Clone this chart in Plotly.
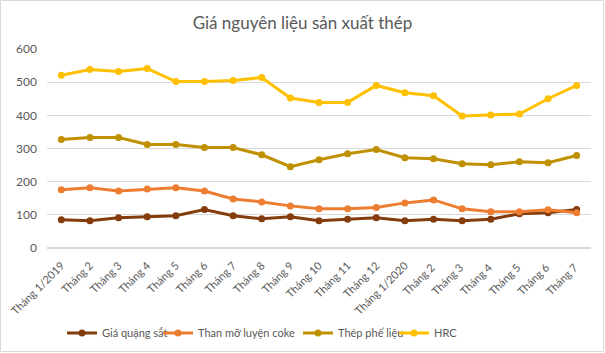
import plotly.graph_objects as go

categories = ["Tháng 1/2019", "Tháng 2", "Tháng 3", "Tháng 4", "Tháng 5", "Tháng 6", "Tháng 7",
              "Tháng 8", "Tháng 9", "Tháng 10", "Tháng 11", "Tháng 12", "Tháng 1/2020", "Tháng 2 ",
              "Tháng 3 ", "Tháng 4 ", "Tháng 5 ", "Tháng 6 ", "Tháng 7 "]
quang_sat = [85, 82, 91, 94, 97, 116, 97, 88, 94, 82, 87, 91, 82, 87, 82, 87, 103, 106, 116]
than_mo = [176, 182, 172, 178, 182, 172, 148, 139, 127, 118, 118, 122, 136, 145, 118, 109, 109, 115, 106]
thep_phe_lieu = [327, 333, 333, 312, 312, 303, 303, 281, 245, 266, 284, 297, 272, 269, 254, 251, 260, 257, 279]
hrc = [521, 538, 532, 541, 502, 502, 505, 514, 452, 439, 439, 490, 468, 459, 398, 401, 404, 450, 490]
y_ticks = [0, 100, 200, 300, 400, 500, 600]

series = [
    ("Giá quặng sắt", quang_sat, "#843C0C"),
    ("Than mỡ luyện coke", than_mo, "#ED7D31"),
    ("Thép phế liệu", thep_phe_lieu, "#BF9000"),
    ("HRC", hrc, "#FFC000"),
]
legend_left_px = [62, 158, 298, 394]

W, H = 605, 353
L, R, T, B = 47, 14, 49, 105
pw, ph = W - L - R, H - T - B

fig = go.Figure()
legend_layouts = {}
for i, (name, vals, color) in enumerate(series):
    lg = "legend" if i == 0 else f"legend{i + 1}"
    fig.add_trace(go.Scatter(
        x=categories, y=vals, name=name, mode="lines+markers", legend=lg,
        line=dict(color=color, width=3), marker=dict(color=color, size=7),
    ))
    legend_layouts[lg] = dict(orientation="h", x=legend_left_px[i] / W, xref="container",
                              xanchor="left", y=1 - 333 / H, yref="container",
                              yanchor="middle", font=dict(size=11, color="#595959"),
                              bgcolor="rgba(0,0,0,0)")

fig.update_layout(
    width=W, height=H,
    margin=dict(l=L, r=R, t=T, b=B, autoexpand=False),
    paper_bgcolor="white", plot_bgcolor="white",
    font=dict(family="Lato, Liberation Sans, sans-serif", color="#595959", size=12),
    title=dict(text="Giá nguyên liệu sản xuất thép", x=0.5, xanchor="center",
               y=1 - 23 / H, yanchor="middle", font=dict(size=17, color="#595959")),
    xaxis=dict(type="category", range=[-0.5, len(categories) - 0.5], showgrid=False,
               tickangle=-45, ticks="", showline=False, zeroline=False, automargin=False,
               ticklabelstandoff=8,
               tickfont=dict(size=11, color="#595959")),
    yaxis=dict(range=[0, 600], tickvals=y_ticks, showgrid=True, gridcolor="#D9D9D9",
               gridwidth=1, zeroline=True, zerolinecolor="#D9D9D9", showline=False,
               ticks="", automargin=False, ticklabelstandoff=9,
               tickfont=dict(size=12, color="#595959")),
    showlegend=True,
    **legend_layouts,
)
fig.add_shape(type="rect", xref="paper", yref="paper",
              x0=-(L - 0.5) / pw, x1=1 + (R - 1.5) / pw,
              y0=-(B - 1.5) / ph, y1=1 + (T - 0.5) / ph,
              line=dict(color="#D9D9D9", width=1), layer="below")

fig.write_html("out.html")
